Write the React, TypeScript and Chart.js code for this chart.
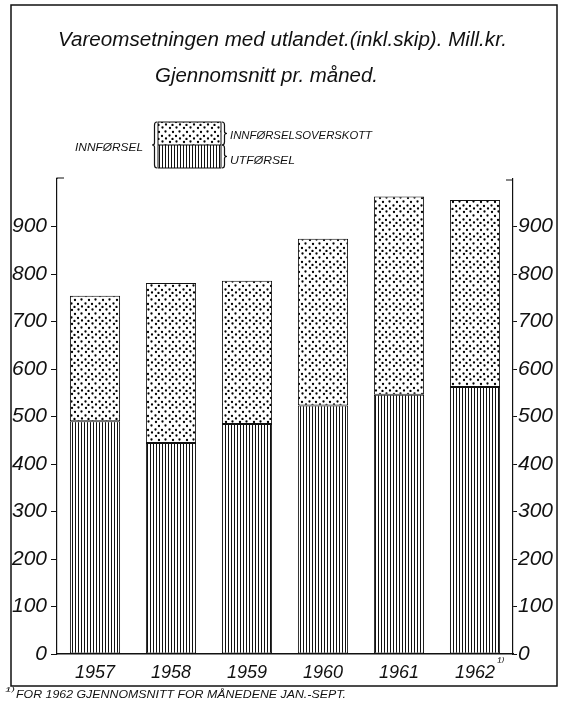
import React, { useEffect, useRef } from 'react';
import { Chart, registerables } from 'chart.js';

Chart.register(...registerables);

// ---- data ----
const YEARS = ['1957', '1958', '1959', '1960', '1961', '1962'];
const UTFORSEL = [490, 444, 484, 523, 546, 562];
const INNFORSELSOVERSKOTT = [264, 337, 302, 351, 417, 394];
const Y_TICKS = [0, 100, 200, 300, 400, 500, 600, 700, 800, 900];
const TITLE_LINE_1 = 'Vareomsetningen med utlandet.(inkl.skip). Mill.kr.';
const TITLE_LINE_2 = 'Gjennomsnitt pr. måned.';
const LEGEND_TOTAL = 'INNFØRSEL';
const LEGEND_SURPLUS = 'INNFØRSELSOVERSKOTT';
const LEGEND_EXPORT = 'UTFØRSEL';
const FOOTNOTE_MARK = '¹⁾';
const FOOTNOTE = 'FOR 1962 GJENNOMSNITT FOR MÅNEDENE JAN.-SEPT.';

const FONT = '"Liberation Sans", "DejaVu Sans", sans-serif';
const INK = '#111';

function makeStripePattern(ctx: CanvasRenderingContext2D) {
  const c = document.createElement('canvas');
  c.width = 3;
  c.height = 4;
  const g = c.getContext('2d')!;
  g.fillStyle = '#fff';
  g.fillRect(0, 0, 3, 4);
  g.fillStyle = INK;
  g.fillRect(0, 0, 1, 4);
  return ctx.createPattern(c, 'repeat')!;
}

function makeDotPattern(ctx: CanvasRenderingContext2D) {
  const c = document.createElement('canvas');
  c.width = 14;
  c.height = 14;
  const g = c.getContext('2d')!;
  g.fillStyle = '#fff';
  g.fillRect(0, 0, 14, 14);
  g.fillStyle = '#000';
  const dots = [
    [2, 2], [8.5, 1.5], [5, 6], [11.5, 5.5], [1.5, 9.5], [8, 10], [12, 12.5], [4.5, 13],
  ];
  for (const [x, y] of dots) {
    g.beginPath();
    g.arc(x, y, 1.15, 0, Math.PI * 2);
    g.fill();
  }
  return ctx.createPattern(c, 'repeat')!;
}

function fitText(ctx: CanvasRenderingContext2D, text: string, x: number, y: number, width: number) {
  const w = ctx.measureText(text).width;
  const s = width / w;
  ctx.save();
  ctx.translate(x, y);
  ctx.scale(s, 1);
  ctx.fillText(text, 0, 0);
  ctx.restore();
}

function brace(ctx: CanvasRenderingContext2D, x: number, y0: number, y1: number, dir: number) {
  // dir = -1 tip to the left, +1 tip to the right
  const m = (y0 + y1) / 2;
  const d = 2.5 * dir;
  ctx.beginPath();
  ctx.moveTo(x, y0);
  ctx.quadraticCurveTo(x + d, y0, x + d, y0 + 3);
  ctx.lineTo(x + d, m - 2);
  ctx.quadraticCurveTo(x + d, m, x + 2 * d, m);
  ctx.quadraticCurveTo(x + d, m, x + d, m + 2);
  ctx.lineTo(x + d, y1 - 3);
  ctx.quadraticCurveTo(x + d, y1, x, y1);
  ctx.stroke();
}

export default function App() {
  const ref = useRef<HTMLCanvasElement | null>(null);

  useEffect(() => {
    const canvas = ref.current!;
    const ctx0 = canvas.getContext('2d')!;
    const stripes = makeStripePattern(ctx0);
    const dots = makeDotPattern(ctx0);

    const decor = {
      id: 'decor',
      beforeDraw(chart: any) {
        const ctx = chart.ctx;
        ctx.save();
        ctx.fillStyle = '#fff';
        ctx.fillRect(0, 0, chart.width, chart.height);
        ctx.restore();
      },
      afterDraw(chart: any) {
        const ctx: CanvasRenderingContext2D = chart.ctx;
        const area = chart.chartArea;
        ctx.save();
        ctx.fillStyle = INK;
        ctx.strokeStyle = INK;

        // frame
        ctx.lineWidth = 1.5;
        ctx.strokeRect(11, 5, 546, 681);

        // title
        ctx.textBaseline = 'middle';
        ctx.textAlign = 'left';
        ctx.font = `italic 20px ${FONT}`;
        fitText(ctx, TITLE_LINE_1, 58, 40, 449);
        fitText(ctx, TITLE_LINE_2, 155, 76, 223);

        // legend box
        const bx = 158, bw = 63, by = 122, bh = 46;
        ctx.fillStyle = dots;
        ctx.fillRect(bx, by, bw, bh / 2);
        ctx.fillStyle = stripes;
        ctx.fillRect(bx, by + bh / 2, bw, bh / 2);
        ctx.lineWidth = 1;
        ctx.strokeRect(bx, by, bw, bh);
        ctx.beginPath();
        ctx.moveTo(bx, by + bh / 2);
        ctx.lineTo(bx + bw, by + bh / 2);
        ctx.stroke();
        ctx.lineWidth = 1.2;
        brace(ctx, bx - 1, by, by + bh, -1);
        brace(ctx, bx + bw + 1, by, by + bh / 2, 1);
        brace(ctx, bx + bw + 1, by + bh / 2, by + bh, 1);
        ctx.fillStyle = INK;
        ctx.font = `italic 11px ${FONT}`;
        fitText(ctx, LEGEND_SURPLUS, 230, 136, 142);
        fitText(ctx, LEGEND_EXPORT, 230, 161, 65);
        fitText(ctx, LEGEND_TOTAL, 75, 148, 68);

        // axis caps
        ctx.lineWidth = 1.2;
        ctx.beginPath();
        ctx.moveTo(area.left, area.top);
        ctx.lineTo(area.left, area.top - 1);
        ctx.lineTo(area.left + 7, area.top - 1);
        ctx.moveTo(area.right, area.top + 1);
        ctx.lineTo(area.right - 7, area.top + 1);
        ctx.stroke();

        // superscript after 1962
        const xs = chart.scales.x;
        const x1962 = xs.getPixelForValue(YEARS.length - 1);
        ctx.font = `italic 13px ${FONT}`;
        ctx.fillText(FOOTNOTE_MARK, x1962 + 22, 662);

        // footnote
        ctx.font = `italic 11px ${FONT}`;
        fitText(ctx, FOOTNOTE_MARK, 5, 692, 10);
        fitText(ctx, FOOTNOTE, 16, 695, 330);
        ctx.restore();
      },
    };

    const yTickFont = { family: FONT, size: 21, style: 'italic' as const };

    const chart = new Chart(canvas, {
      type: 'bar',
      data: {
        labels: YEARS,
        datasets: [
          {
            label: LEGEND_EXPORT,
            data: UTFORSEL,
            backgroundColor: stripes,
            borderColor: INK,
            borderWidth: 1,
            borderSkipped: false,
          },
          {
            label: LEGEND_SURPLUS,
            data: INNFORSELSOVERSKOTT,
            backgroundColor: dots,
            borderColor: INK,
            borderWidth: 1,
            borderSkipped: false,
          },
        ],
      },
      options: {
        responsive: false,
        animation: false,
        devicePixelRatio: 1,
        layout: { padding: { top: 179, left: 0, right: 0, bottom: 0 } },
        datasets: { bar: { barPercentage: 0.66, categoryPercentage: 1 } },
        plugins: {
          legend: { display: false },
          tooltip: { enabled: false },
          title: { display: false },
        },
        scales: {
          x: {
            stacked: true,
            grid: { display: false, drawTicks: false },
            border: { display: true, color: INK, width: 1.5 },
            ticks: { color: INK, font: { family: FONT, size: 18, style: 'italic' }, padding: 8 },
            afterFit: (s: any) => { s.height = 49; },
          },
          y: {
            stacked: true,
            position: 'left',
            min: 0,
            max: 1000,
            afterBuildTicks: (s: any) => { s.ticks = Y_TICKS.map((v) => ({ value: v })); },
            grid: { drawOnChartArea: false, color: INK, tickLength: 6, lineWidth: 1 },
            border: { display: true, color: INK, width: 1.2 },
            ticks: { color: INK, font: yTickFont, padding: 4, autoSkip: false },
            afterFit: (s: any) => { s.width = 57; },
          },
          y2: {
            position: 'right',
            min: 0,
            max: 1000,
            afterBuildTicks: (s: any) => { s.ticks = Y_TICKS.map((v) => ({ value: v })); },
            grid: { drawOnChartArea: false, color: INK, tickLength: 4, lineWidth: 1 },
            border: { display: true, color: INK, width: 1.2 },
            ticks: { color: INK, font: yTickFont, padding: 1, autoSkip: false },
            afterFit: (s: any) => { s.width = 53; },
          },
        },
      },
      plugins: [decor],
    });

    return () => chart.destroy();
  }, []);

  return (
    <div style={{ position: 'absolute', left: 0, top: 0, width: 566, height: 703, background: '#fff' }}>
      <canvas ref={ref} width={566} height={703} style={{ display: 'block', width: 566, height: 703 }} />
    </div>
  );
}
